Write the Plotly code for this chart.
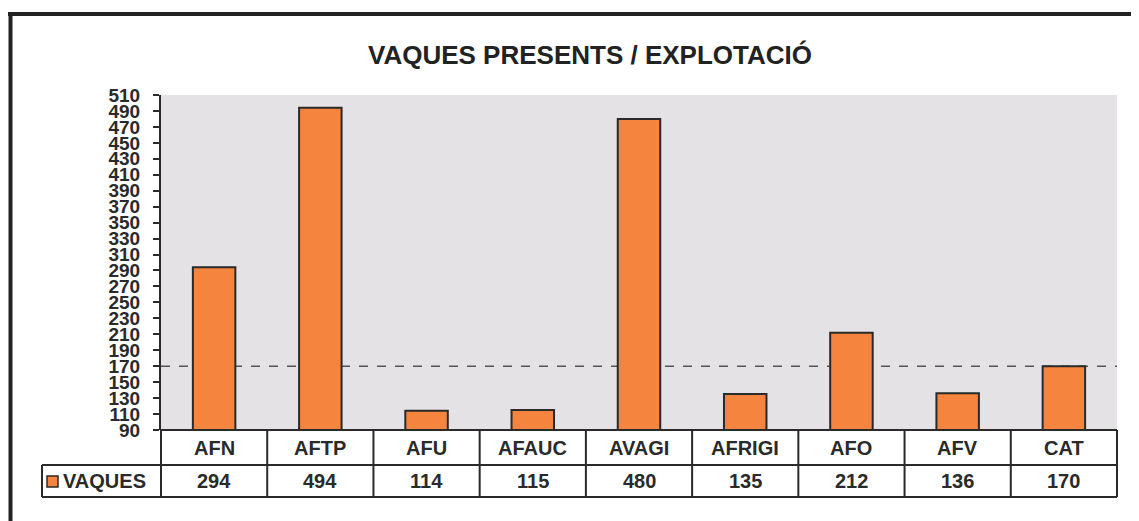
import plotly.graph_objects as go

categories = ["AFN", "AFTP", "AFU", "AFAUC", "AVAGI", "AFRIGI", "AFO", "AFV", "CAT"]
vaques = [294, 494, 114, 115, 480, 135, 212, 136, 170]
series_name = "VAQUES"
reference_value = 170
y_ticks = list(range(90, 511, 20))
title_text = "VAQUES PRESENTS / EXPLOTACIÓ"

OFF = 8  # page body margin
W, H = 1139 - OFF, 521 - OFF
L, R, T, B = 161 - OFF, 1117 - OFF, 95 - OFF, 430 - OFF
pw, ph = R - L, B - T

def px_x(x):
    return (x - OFF - L) / pw

def px_y(y):
    return (B - (y - OFF)) / ph

BAR = "#F5843E"
EDGE = "#2a2a2a"
FONT = "Liberation Sans, Arial, sans-serif"
n = len(categories)
xs = list(range(n))

fig = go.Figure()
fig.add_trace(go.Bar(
    x=xs, y=[v - 90 for v in vaques], base=90, width=0.4,
    marker=dict(color=BAR, line=dict(color=EDGE, width=2)),
    showlegend=False, hoverinfo="skip",
))

shapes = []
shapes.append(dict(type="line", xref="paper", yref="y", x0=0, x1=1,
                   y0=reference_value, y1=reference_value,
                   line=dict(color="#555555", width=1.5, dash="dash"), layer="below"))
row1 = px_y(465)
row2 = px_y(497)
lc = dict(color=EDGE, width=2)
shapes.append(dict(type="line", xref="paper", yref="paper", x0=0, x1=1, y0=0, y1=0, line=lc))
shapes.append(dict(type="line", xref="paper", yref="paper", x0=px_x(42), x1=1, y0=row1, y1=row1, line=lc))
shapes.append(dict(type="line", xref="paper", yref="paper", x0=px_x(42), x1=1, y0=row2, y1=row2, line=lc))
shapes.append(dict(type="line", xref="paper", yref="paper", x0=px_x(42), x1=px_x(42), y0=row1, y1=row2, line=lc))
shapes.append(dict(type="line", xref="paper", yref="paper", x0=0, x1=0, y0=0, y1=row2, line=lc))
shapes.append(dict(type="line", xref="paper", yref="paper", x0=1, x1=1, y0=0, y1=row2, line=lc))
for i in range(n - 1):
    shapes.append(dict(type="line", xref="x", yref="paper", x0=i + 0.5, x1=i + 0.5,
                       y0=0, y1=row2, line=lc))
shapes.append(dict(type="rect", xref="paper", yref="paper", x0=px_x(47), x1=px_x(58),
                   y0=px_y(476), y1=px_y(487), fillcolor=BAR, line=dict(color=EDGE, width=1.5)))
shapes.append(dict(type="line", xref="paper", yref="paper", x0=px_x(8), x1=px_x(1150),
                   y0=px_y(14), y1=px_y(14), line=dict(color="#222222", width=4)))
shapes.append(dict(type="line", xref="paper", yref="paper", x0=px_x(10.5), x1=px_x(10.5),
                   y0=px_y(12), y1=px_y(530), line=dict(color="#222222", width=4)))

ann = []
ann.append(dict(text="<b>" + title_text + "</b>", xref="paper", yref="paper",
                x=px_x(590), y=px_y(55), xanchor="center", yanchor="middle", showarrow=False,
                font=dict(family=FONT, size=26, color="#222222")))
for i, (c, v) in enumerate(zip(categories, vaques)):
    ann.append(dict(text="<b>" + c + "</b>", xref="x", yref="paper", x=i,
                    y=px_y(448), xanchor="center", yanchor="middle", showarrow=False,
                    font=dict(family=FONT, size=20, color="#2a2a2a")))
    ann.append(dict(text="<b>" + str(v) + "</b>", xref="x", yref="paper", x=i,
                    y=px_y(481), xanchor="center", yanchor="middle", showarrow=False,
                    font=dict(family=FONT, size=20, color="#2a2a2a")))
ann.append(dict(text="<b>" + series_name + "</b>", xref="paper", yref="paper",
                x=px_x(61), y=px_y(481), xanchor="left", yanchor="middle", showarrow=False,
                font=dict(family=FONT, size=20, color="#2a2a2a")))

fig.update_layout(
    width=W, height=H,
    margin=dict(l=L, r=W - R, t=T, b=H - B, pad=0),
    paper_bgcolor="white", plot_bgcolor="#E4E2E4",
    shapes=shapes, annotations=ann,
    xaxis=dict(range=[-0.5, n - 0.5], showticklabels=False, showgrid=False,
               zeroline=False, ticks="", fixedrange=True),
    yaxis=dict(range=[90, 510], tickvals=y_ticks, ticktext=[str(t) for t in y_ticks],
               showgrid=False, zeroline=False, showline=True, linecolor=EDGE, linewidth=2,
               ticks="outside", ticklen=6, tickwidth=1.5, tickcolor=EDGE,
               ticklabelstandoff=9,
               tickfont=dict(family=FONT, size=19, color="#2a2a2a", weight="bold"),
               fixedrange=True),
)

fig.write_html("out.html")
